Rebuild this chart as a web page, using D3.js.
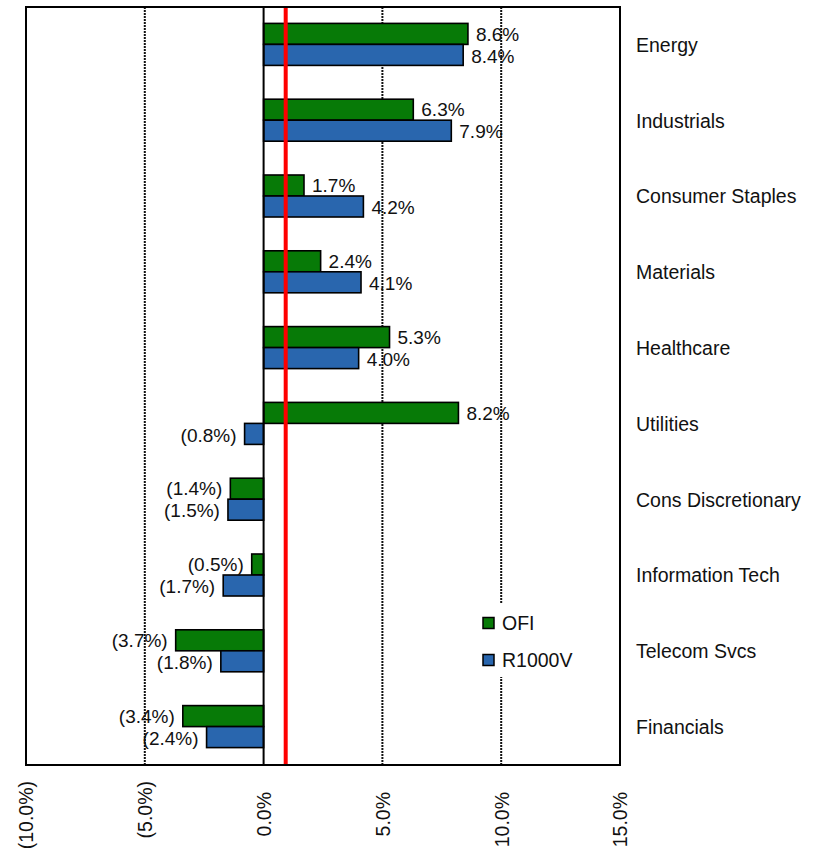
<!DOCTYPE html>
<html>
<head>
<meta charset="utf-8">
<script src="https://cdn.jsdelivr.net/npm/d3@7"></script>
<style>
   body { margin: 0; background: #fff; }
   svg { display: block; font-family: "Liberation Sans", Arial, sans-serif; }
</style>
</head>
<body>
<svg width="827" height="852"></svg>
<script>
// DATA
var categories = ['Energy', 'Industrials', 'Consumer Staples', 'Materials', 'Healthcare',
   'Utilities', 'Cons Discretionary', 'Information Tech', 'Telecom Svcs', 'Financials'];
var seriesNames = ['OFI', 'R1000V'];
var ofiValues = [8.6, 6.3, 1.7, 2.4, 5.3, 8.2, -1.4, -0.5, -3.7, -3.4];
var r1000vValues = [8.4, 7.9, 4.2, 4.1, 4.0, -0.8, -1.5, -1.7, -1.8, -2.4];
var tickValues = [-10, -5, 0, 5, 10, 15];
var referenceValue = 0.93; // red marker line

var svg = d3.select('svg');

var bounds = {left: 26, right: 620, top: 7, bottom: 765};
var colors = {OFI: '#077a07', R1000V: '#2966ae'};
var fontSize = '19.5px';
var labelFontSize = '19px';

var xScale = d3.scaleLinear().domain([-10, 15]).range([bounds.left, bounds.right]);
var yScale = d3.scaleBand().domain(categories).range([bounds.top, bounds.bottom]);
var subScale = d3.scaleBand().domain(seriesNames).range([-21, 21]);

var rows = categories.map(function (c, i) {
   return {category: c, values: [{series: 'OFI', value: ofiValues[i]}, {series: 'R1000V', value: r1000vValues[i]}]};
});

function pct(v) {
   var s = Math.abs(v).toFixed(1) + '%';
   return v < 0 ? '(' + s + ')' : s;
}

// dotted gridlines
svg.append('g')
   .selectAll('line')
   .data(tickValues.filter(function (t) { return t !== 0 && t !== -10 && t !== 15; }))
   .enter().append('line')
   .attr('x1', xScale).attr('x2', xScale)
   .attr('y1', bounds.top).attr('y2', bounds.bottom)
   .attr('stroke', '#111')
   .attr('stroke-width', 2)
   .attr('stroke-dasharray', '2,1');

// bars
var groups = svg.append('g').selectAll('g')
   .data(rows)
   .enter().append('g')
   .attr('transform', function (d) {
      return 'translate(0,' + (yScale(d.category) + yScale.bandwidth() / 2 - 0.5) + ')';
   });

groups.selectAll('rect')
   .data(function (d) { return d.values; })
   .enter().append('rect')
   .attr('x', function (d) { return xScale(Math.min(0, d.value)); })
   .attr('y', function (d) { return subScale(d.series); })
   .attr('width', function (d) { return Math.abs(xScale(d.value) - xScale(0)); })
   .attr('height', subScale.bandwidth())
   .attr('fill', function (d) { return colors[d.series]; })
   .attr('stroke', '#000')
   .attr('stroke-width', 1.6);

groups.selectAll('text')
   .data(function (d) { return d.values; })
   .enter().append('text')
   .attr('x', function (d) { return d.value < 0 ? xScale(d.value) - 8 : xScale(d.value) + 8; })
   .attr('y', function (d) { return subScale(d.series) + subScale.bandwidth() / 2 + (d.series === 'OFI' ? 0 : 1); })
   .attr('dy', '0.35em')
   .attr('text-anchor', function (d) { return d.value < 0 ? 'end' : 'start'; })
   .style('font-size', labelFontSize)
   .attr('fill', '#111')
   .text(function (d) { return pct(d.value); });

// zero axis
svg.append('line')
   .attr('x1', xScale(0)).attr('x2', xScale(0))
   .attr('y1', bounds.top).attr('y2', bounds.bottom)
   .attr('stroke', '#000').attr('stroke-width', 2);

// red reference line
svg.append('line')
   .attr('x1', xScale(referenceValue)).attr('x2', xScale(referenceValue))
   .attr('y1', bounds.top).attr('y2', bounds.bottom)
   .attr('stroke', '#ff0000').attr('stroke-width', 4);

// frame
svg.append('rect')
   .attr('x', bounds.left).attr('y', bounds.top)
   .attr('width', bounds.right - bounds.left).attr('height', bounds.bottom - bounds.top)
   .attr('fill', 'none').attr('stroke', '#000').attr('stroke-width', 2);

// category labels on the right
svg.append('g')
   .selectAll('text')
   .data(categories)
   .enter().append('text')
   .attr('x', bounds.right + 16)
   .attr('y', function (d) { return yScale(d) + yScale.bandwidth() / 2; })
   .attr('dy', '0.35em')
   .style('font-size', fontSize)
   .attr('fill', '#111')
   .text(function (d) { return d; });

// bottom tick labels, rotated
svg.append('g')
   .attr('transform', 'translate(0,' + (bounds.bottom + 16) + ')')
   .call(d3.axisBottom(xScale).tickValues(tickValues).tickSize(0).tickFormat(pct))
   .call(function (g) { g.select('.domain').remove(); })
   .selectAll('text')
   .attr('transform', 'rotate(-90)')
   .attr('text-anchor', 'end')
   .attr('x', function (d) { return d < 0 ? 0 : -11; })
   .attr('y', 0)
   .attr('dy', '0.35em')
   .style('font-size', fontSize)
   .style('font-family', '"Liberation Sans", Arial, sans-serif')
   .attr('fill', '#111');

// legend
var legend = svg.append('g');
legend.append('rect')
   .attr('x', 476).attr('y', 603).attr('width', 120).attr('height', 74)
   .attr('fill', '#fff');

var legendItems = legend.selectAll('g')
   .data(seriesNames)
   .enter().append('g')
   .attr('transform', function (d, i) { return 'translate(483,' + (623 + i * 37) + ')'; });

legendItems.append('rect')
   .attr('x', 0).attr('y', -5.5).attr('width', 11).attr('height', 11)
   .attr('fill', function (d) { return colors[d]; })
   .attr('stroke', '#000').attr('stroke-width', 1.5);

legendItems.append('text')
   .attr('x', 19)
   .attr('dy', '0.35em')
   .style('font-size', fontSize)
   .attr('fill', '#111')
   .text(function (d) { return d; });
</script>
</body>
</html>
